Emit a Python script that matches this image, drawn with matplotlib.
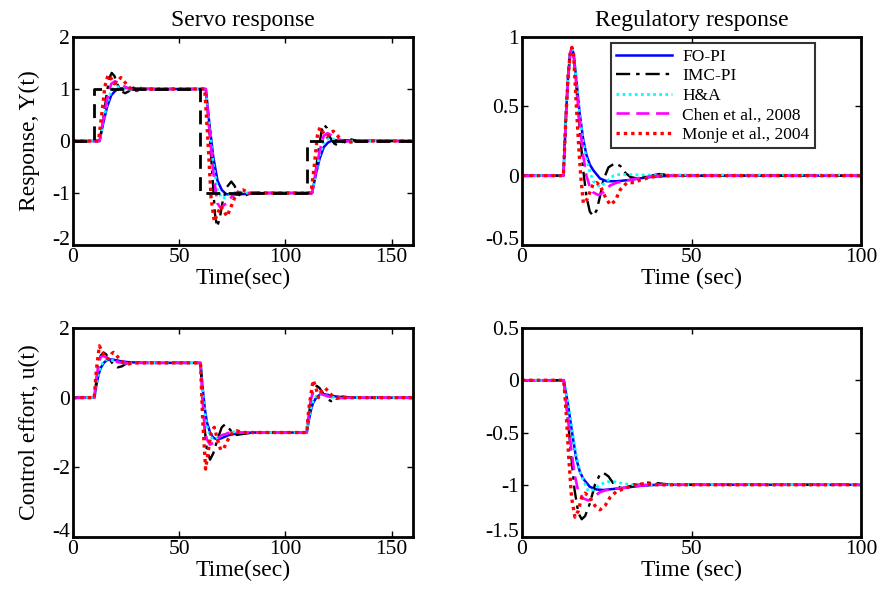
import matplotlib
matplotlib.use("Agg")
import matplotlib.pyplot as plt
import matplotlib.transforms as mtransforms

plt.rcParams['font.family'] = ['Liberation Serif', 'DejaVu Serif']
plt.rcParams['axes.unicode_minus'] = False
plt.rcParams['mathtext.fontset'] = 'stix'

# ---------------- data ----------------
labels = ["FO-PI", "IMC-PI", "H&A", "Chen et al., 2008", "Monje et al., 2004"]

# Servo response Y(t)
sp_t = [0, 10, 10, 60, 60, 110, 110, 160]
sp_y = [0, 0, 1, 1, -1, -1, 0, 0]

servo_y_t = {
    "FO-PI": [0, 12.5, 14, 16, 18, 20, 22, 25, 30, 40, 60, 62.5, 64, 66, 68, 70, 72, 75, 80, 90, 110, 112.5, 114, 116, 118, 120, 122, 125, 130, 160],
    "IMC-PI": [0, 12.5, 14, 15.5, 17, 18.2, 19.5, 21, 23, 24.5, 26, 28, 30, 32, 35, 40, 60, 62.5, 64, 65.5, 66.8, 67.8, 69, 70.5, 72.5, 74.5, 76, 78, 80, 82, 85, 90, 110, 112.5, 114, 115.5, 117, 118, 119.5, 121, 123, 124.5, 126, 128, 130, 132, 135, 140, 160],
    "H&A": [0, 12.5, 14, 16, 18, 20, 22, 25, 28, 32, 60, 62.5, 64, 66, 68, 70, 72, 75, 78, 82, 110, 112.5, 114, 116, 118, 120, 122, 125, 128, 132, 160],
    "Chen et al., 2008": [0, 12.5, 14, 16, 18, 19.8, 22, 25, 28, 32, 60, 62.5, 64, 66, 68, 69.5, 72, 75, 78, 82, 110, 112.5, 114, 116, 118, 119.8, 122, 125, 128, 132, 160],
    "Monje et al., 2004": [0, 12, 13.5, 15, 16.5, 18, 19.5, 21, 22.5, 24, 26, 28, 30, 33, 60, 62, 63.5, 65, 66.5, 68, 69.5, 71, 72.5, 74, 76, 78, 80, 83, 110, 112, 113.5, 115, 116.2, 118, 119.5, 121, 122.5, 124, 126, 128, 131, 135, 160],
}
servo_y_v = {
    "FO-PI": [0, 0, 0.3, 0.65, 0.88, 0.97, 1.01, 1.02, 1.01, 1.0, 1.0, 1.0, 0.4, -0.3, -0.76, -0.94, -1.02, -1.04, -1.02, -1.0, -1.0, -1.0, -0.7, -0.35, -0.12, -0.03, 0.01, 0.02, 0.01, 0],
    "IMC-PI": [0, 0, 0.35, 0.8, 1.2, 1.31, 1.25, 1.08, 0.95, 0.92, 0.95, 1.02, 1.04, 1.02, 0.99, 1.0, 1.0, 1.0, 0.3, -0.6, -1.4, -1.65, -1.5, -1.15, -0.88, -0.78, -0.86, -1.03, -1.07, -1.03, -0.99, -1.0, -1.0, -1.0, -0.65, -0.2, 0.2, 0.32, 0.25, 0.07, -0.05, -0.08, -0.05, 0.02, 0.04, 0.02, -0.01, 0, 0],
    "H&A": [0, 0, 0.32, 0.72, 0.97, 1.05, 1.04, 1.0, 0.99, 1.0, 1.0, 1.0, 0.36, -0.44, -0.94, -1.1, -1.08, -1.0, -0.98, -1.0, -1.0, -1.0, -0.68, -0.28, -0.03, 0.05, 0.04, 0.0, -0.01, 0, 0],
    "Chen et al., 2008": [0, 0, 0.35, 0.8, 1.1, 1.15, 1.1, 1.03, 0.99, 1.0, 1.0, 1.0, 0.3, -0.6, -1.2, -1.29, -1.2, -1.06, -0.98, -1.0, -1.0, -1.0, -0.65, -0.2, 0.1, 0.15, 0.1, 0.03, -0.01, 0, 0],
    "Monje et al., 2004": [0, 0, 0.5, 1.05, 1.27, 1.2, 1.1, 1.15, 1.22, 1.15, 1.05, 0.98, 0.97, 1.0, 1.0, 1.0, 0.0, -1.1, -1.55, -1.4, -1.25, -1.35, -1.45, -1.3, -1.1, -0.96, -0.94, -1.0, -1.0, -1.0, -0.5, 0.1, 0.26, 0.15, 0.08, 0.14, 0.19, 0.12, 0.04, -0.02, -0.02, 0, 0],
}

# Servo control effort u(t)
servo_u_t = {
    "FO-PI": [0, 10, 11, 12, 13, 14.5, 16, 18, 20, 23, 26, 30, 35, 60, 61, 62, 63, 64.5, 66, 68, 70, 73, 76, 80, 85, 110, 111, 112, 113, 114.5, 116, 118, 120, 123, 126, 130, 135, 160],
    "IMC-PI": [0, 10, 11, 12, 13, 14.3, 15.5, 17, 19, 21, 23, 25, 27, 30, 35, 60, 61, 62, 63, 64.5, 66, 68, 70, 71.5, 73, 75, 77, 80, 85, 110, 111, 112, 113, 114.7, 116, 118, 120, 121.5, 123, 125, 127, 130, 135, 160],
    "H&A": [0, 10, 11, 12, 13, 14.5, 16, 18, 20, 23, 26, 30, 60, 61, 62, 63, 64.5, 66, 68, 70, 73, 76, 80, 110, 111, 112, 113, 114.5, 116, 118, 120, 123, 126, 130, 160],
    "Chen et al., 2008": [0, 10, 11, 12, 13, 14, 16, 18, 20, 23, 26, 30, 60, 61, 62, 63, 64.5, 66, 68, 70, 73, 76, 80, 110, 111, 112, 113, 114, 116, 118, 120, 123, 126, 130, 160],
    "Monje et al., 2004": [0, 10, 11, 12.4, 13.5, 15, 16.5, 18, 19, 20, 22, 24, 26, 29, 60, 61, 62.4, 63.5, 65, 66.5, 68, 69.5, 71, 73, 75, 77, 80, 110, 111, 113, 114.3, 115.5, 117, 118.5, 120, 122, 124, 126, 130, 160],
}
servo_u_v = {
    "FO-PI": [0, 0, 0.35, 0.65, 0.85, 1.0, 1.08, 1.1, 1.08, 1.04, 1.02, 1.01, 1.0, 1.0, 0.3, -0.3, -0.7, -1.0, -1.15, -1.2, -1.16, -1.08, -1.04, -1.02, -1.0, -1.0, -0.65, -0.35, -0.15, 0.0, 0.08, 0.1, 0.08, 0.04, 0.02, 0.01, 0, 0],
    "IMC-PI": [0, 0, 0.5, 0.95, 1.2, 1.3, 1.25, 1.12, 0.95, 0.87, 0.9, 0.98, 1.03, 1.02, 1.0, 1.0, 0.0, -0.9, -1.5, -1.78, -1.6, -1.2, -0.85, -0.77, -0.85, -1.0, -1.07, -1.04, -1.0, -1.0, -0.5, -0.05, 0.2, 0.34, 0.28, 0.1, -0.05, -0.1, -0.07, 0.0, 0.03, 0.01, 0, 0],
    "H&A": [0, 0, 0.4, 0.7, 0.9, 1.05, 1.1, 1.08, 1.04, 1.0, 0.99, 1.0, 1.0, 0.2, -0.4, -0.8, -1.1, -1.2, -1.15, -1.08, -1.01, -0.98, -1.0, -1.0, -0.6, -0.3, -0.1, 0.05, 0.1, 0.08, 0.04, 0.0, -0.01, 0, 0],
    "Chen et al., 2008": [0, 0, 0.55, 0.95, 1.17, 1.2, 1.15, 1.08, 1.04, 1.0, 0.99, 1.0, 1.0, -0.1, -0.9, -1.2, -1.35, -1.3, -1.18, -1.08, -1.02, -0.99, -1.0, -1.0, -0.45, -0.05, 0.17, 0.2, 0.15, 0.08, 0.04, 0.0, -0.01, 0, 0],
    "Monje et al., 2004": [0, 0, 0.8, 1.49, 1.35, 1.15, 1.12, 1.25, 1.3, 1.25, 1.1, 1.0, 0.97, 1.0, 1.0, -0.6, -2.05, -1.6, -1.0, -0.85, -1.2, -1.5, -1.45, -1.2, -1.0, -0.95, -1.0, -1.0, -0.3, 0.5, 0.3, 0.0, 0.2, 0.28, 0.2, 0.05, -0.02, 0.0, 0.0, 0],
}

# Regulatory response Y(t)
reg_y_t = {
    "FO-PI": [0, 12.2, 13, 13.6, 14.2, 14.7, 15.2, 16, 17, 18, 19, 20, 21, 23, 25, 28, 32, 36, 40, 45, 100],
    "IMC-PI": [0, 12.2, 13, 13.6, 14.2, 14.7, 15.2, 16, 17, 18, 19, 20, 21, 22, 23, 24, 25.5, 27.4, 29, 30.5, 32, 34, 37, 40.5, 43, 47, 100],
    "H&A": [0, 12.2, 13, 13.6, 14.2, 14.7, 15.2, 16, 17, 18, 19, 20, 21, 23, 25, 27, 29, 35, 100],
    "Chen et al., 2008": [0, 12.2, 13, 13.6, 14.2, 14.7, 15.2, 16, 17, 18, 19, 20, 21, 22.5, 24, 26, 28, 32, 36, 40, 100],
    "Monje et al., 2004": [0, 12.2, 13, 13.6, 14.2, 14.7, 15.2, 15.8, 16.6, 17.3, 18.1, 19, 20, 21, 22, 23, 24.5, 26, 27.5, 29, 31, 33, 35, 38, 42, 100],
}
reg_y_v = {
    "FO-PI": [0, 0, 0.45, 0.72, 0.88, 0.925, 0.88, 0.7, 0.45, 0.27, 0.15, 0.08, 0.04, -0.02, -0.04, -0.04, -0.03, -0.015, -0.005, 0, 0],
    "IMC-PI": [0, 0, 0.45, 0.72, 0.88, 0.925, 0.88, 0.65, 0.35, 0.05, -0.15, -0.26, -0.29, -0.25, -0.15, -0.03, 0.06, 0.09, 0.07, 0.02, -0.01, -0.02, -0.005, 0.012, 0.005, 0, 0],
    "H&A": [0, 0, 0.45, 0.72, 0.88, 0.925, 0.88, 0.7, 0.44, 0.25, 0.12, 0.03, -0.04, -0.08, -0.04, 0.0, 0.01, 0.005, 0.005],
    "Chen et al., 2008": [0, 0, 0.45, 0.72, 0.88, 0.925, 0.88, 0.65, 0.38, 0.15, 0.0, -0.08, -0.12, -0.14, -0.12, -0.07, -0.05, -0.03, -0.01, 0, 0],
    "Monje et al., 2004": [0, 0, 0.45, 0.72, 0.88, 0.925, 0.88, 0.6, 0.26, 0.0, -0.2, -0.18, -0.12, -0.06, -0.05, -0.07, -0.15, -0.21, -0.18, -0.1, -0.05, -0.05, -0.03, -0.01, 0, 0],
}

# Regulatory control effort u(t)
reg_u_t = {
    "FO-PI": [0, 12.3, 13.5, 15, 16, 17, 18, 19, 20, 22, 24, 27, 30, 35, 40, 100],
    "IMC-PI": [0, 12.3, 13.3, 14.5, 15.5, 16.6, 17.6, 18.6, 20, 21.5, 23, 24, 25.5, 27, 29, 31, 34, 37, 40, 44, 100],
    "H&A": [0, 12.3, 13.5, 15, 16, 17, 18, 19.5, 21, 23, 25, 27, 30, 33, 100],
    "Chen et al., 2008": [0, 12.3, 13.3, 14.5, 15.5, 16.5, 18, 19.6, 21, 23, 26, 30, 34, 38, 100],
    "Monje et al., 2004": [0, 12.3, 13, 13.8, 14.6, 15.6, 16.6, 17.6, 18.6, 20, 21.5, 23, 24.5, 26, 28, 30, 33, 36, 40, 100],
}
reg_u_v = {
    "FO-PI": [0, 0, -0.22, -0.55, -0.75, -0.87, -0.94, -0.98, -1.02, -1.045, -1.05, -1.04, -1.03, -1.01, -1.0, -1.0],
    "IMC-PI": [0, 0, -0.3, -0.72, -1.05, -1.27, -1.33, -1.3, -1.18, -1.0, -0.9, -0.885, -0.92, -0.99, -1.03, -1.02, -1.0, -0.98, -0.985, -1.0, -1.0],
    "H&A": [0, 0, -0.2, -0.52, -0.72, -0.86, -0.95, -1.06, -1.05, -1.0, -0.97, -0.97, -0.99, -1.0, -1.0],
    "Chen et al., 2008": [0, 0, -0.3, -0.65, -0.9, -1.05, -1.13, -1.15, -1.12, -1.07, -1.04, -1.03, -1.01, -1.0, -1.0],
    "Monje et al., 2004": [0, 0, -0.3, -0.75, -1.12, -1.31, -1.25, -1.12, -1.08, -1.12, -1.2, -1.24, -1.2, -1.12, -1.06, -1.04, -1.0, -0.99, -1.0, -1.0],
}

# ---------------- styles ----------------
styles = {
    "FO-PI": dict(color="#0000ff", linestyle="-", linewidth=1.8),
    "IMC-PI": dict(color="black", linestyle=(0, (6, 2.5, 1.5, 2.5)), linewidth=1.7),
    "H&A": dict(color="#00ffff", linestyle=(0, (1, 1.2)), linewidth=2.0),
    "Chen et al., 2008": dict(color="#ff00ff", linestyle=(0, (5, 2.5)), linewidth=1.9),
    "Monje et al., 2004": dict(color="#ff0000", linestyle=(0, (1, 1.2)), linewidth=2.4),
}

fig = plt.figure(figsize=(8.86, 5.92), dpi=100)
ax_tl = fig.add_axes([0.0824, 0.5861, 0.3837, 0.3514])
ax_tr = fig.add_axes([0.5892, 0.5861, 0.3826, 0.3514])
ax_bl = fig.add_axes([0.0824, 0.0929, 0.3837, 0.3530])
ax_br = fig.add_axes([0.5892, 0.0929, 0.3826, 0.3530])

TICK_FS = 15.5
LAB_FS = 17


def style_axes(ax, xlim, ylim, xticks, yticks):
    ax.set_xlim(*xlim)
    ax.set_ylim(*ylim)
    ax.set_xticks(xticks)
    ax.set_yticks(yticks)
    ax.set_yticklabels([("%g" % v) for v in yticks])
    for s in ax.spines.values():
        s.set_linewidth(2.0)
    ax.tick_params(direction="in", top=True, right=True, length=4, width=1.0,
                   labelsize=TICK_FS, pad=2)
    # MATLAB-like: lowest y tick label sits slightly raised
    lowest = ax.get_yticklabels()[0]
    lowest.set_transform(lowest.get_transform() +
                         mtransforms.ScaledTranslation(0, 5 / 72, fig.dpi_scale_trans))


def draw(ax, tdict, vdict):
    lines = []
    for name in labels:
        ln, = ax.plot(tdict[name], vdict[name], label=name, **styles[name])
        lines.append(ln)
    return lines

# top-left
draw(ax_tl, servo_y_t, servo_y_v)
ax_tl.plot(sp_t, sp_y, color="black", linestyle=(0, (5, 3)), linewidth=2.0)
style_axes(ax_tl, (0, 160), (-2, 2), [0, 50, 100, 150], [-2, -1, 0, 1, 2])
ax_tl.set_title("Servo response", fontsize=LAB_FS, pad=8)
ax_tl.set_xlabel("Time(sec)", fontsize=LAB_FS, labelpad=1)
ax_tl.set_ylabel("Response, Y(t)", fontsize=LAB_FS, labelpad=9)

# top-right
lines = draw(ax_tr, reg_y_t, reg_y_v)
style_axes(ax_tr, (0, 100), (-0.5, 1), [0, 50, 100], [-0.5, 0, 0.5, 1])
ax_tr.set_title("Regulatory response", fontsize=LAB_FS, pad=8)
ax_tr.set_xlabel("Time (sec)", fontsize=LAB_FS, labelpad=1)
leg = ax_tr.legend(lines, labels, loc="upper right", bbox_to_anchor=(0.864, 0.97),
                   fontsize=12.5, frameon=True, fancybox=False, edgecolor="black",
                   handlelength=3.2, borderpad=0.3, labelspacing=0.2,
                   handletextpad=0.6, borderaxespad=0.0)
leg.get_frame().set_linewidth(1.5)

# bottom-left
draw(ax_bl, servo_u_t, servo_u_v)
style_axes(ax_bl, (0, 160), (-4, 2), [0, 50, 100, 150], [-4, -2, 0, 2])
ax_bl.set_xlabel("Time(sec)", fontsize=LAB_FS, labelpad=1)
ax_bl.set_ylabel("Control effort, u(t)", fontsize=LAB_FS, labelpad=9)

# bottom-right
draw(ax_br, reg_u_t, reg_u_v)
style_axes(ax_br, (0, 100), (-1.5, 0.5), [0, 50, 100], [-1.5, -1, -0.5, 0, 0.5])
ax_br.set_xlabel("Time (sec)", fontsize=LAB_FS, labelpad=1)

fig.savefig("out.png", dpi=100)
